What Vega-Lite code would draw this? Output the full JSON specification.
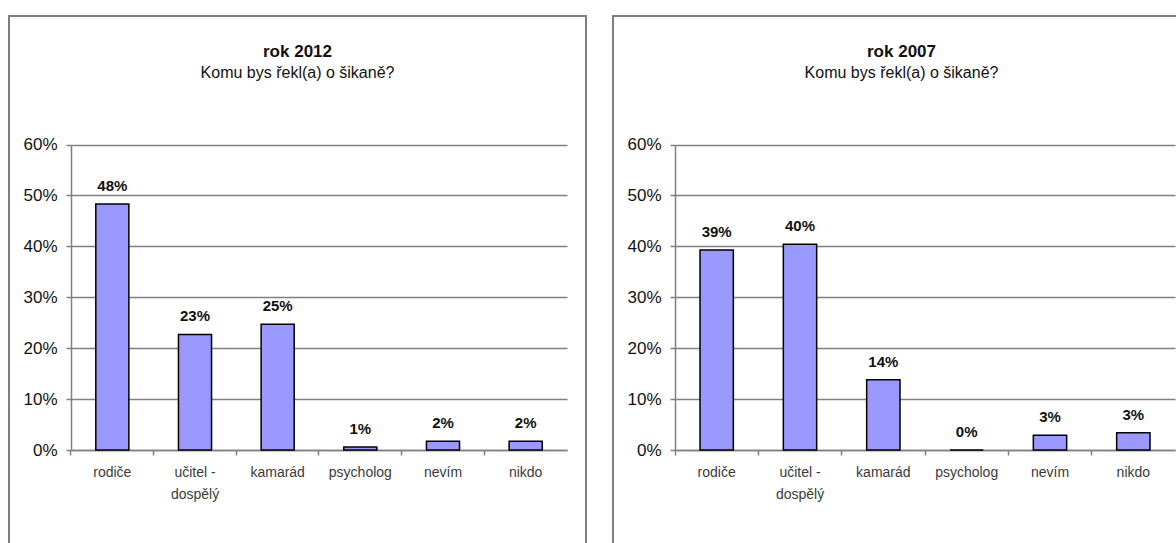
{
  "$schema": "https://vega.github.io/schema/vega-lite/v6.json",
  "padding": {"left": 8, "top": 15, "right": 0, "bottom": 0},
  "spacing": 25,
  "datasets": {
    "y2012": [
      {"kategorie": "rodiče", "podil": 0.483},
      {"kategorie": "učitel - dospělý", "podil": 0.227},
      {"kategorie": "kamarád", "podil": 0.247},
      {"kategorie": "psycholog", "podil": 0.006},
      {"kategorie": "nevím", "podil": 0.017},
      {"kategorie": "nikdo", "podil": 0.017}
    ],
    "y2007": [
      {"kategorie": "rodiče", "podil": 0.393},
      {"kategorie": "učitel - dospělý", "podil": 0.404},
      {"kategorie": "kamarád", "podil": 0.138},
      {"kategorie": "psycholog", "podil": 0.0},
      {"kategorie": "nevím", "podil": 0.029},
      {"kategorie": "nikdo", "podil": 0.034}
    ]
  },
  "config": {
    "font": "Liberation Sans, Arial",
    "view": {"stroke": "#7f7f7f", "strokeWidth": 2},
    "title": {
      "font": "Liberation Sans, Arial",
      "fontSize": 17,
      "fontWeight": "bold",
      "color": "#111111",
      "subtitleFont": "Liberation Sans, Arial",
      "subtitleFontSize": 16,
      "subtitleColor": "#111111",
      "subtitlePadding": 4,
      "anchor": "middle",
      "frame": "group",
      "offset": -66
    },
    "axis": {
      "labelFont": "Liberation Sans, Arial",
      "domainColor": "#808080",
      "domainWidth": 1.5,
      "tickColor": "#808080",
      "tickWidth": 1.5,
      "tickSize": 5,
      "title": null
    }
  },
  "hconcat": [
    {
      "title": {"text": "rok 2012", "subtitle": "Komu bys řekl(a) o šikaně?"},
      "width": 577,
      "height": 535,
      "data": {"name": "y2012"},
      "encoding": {
        "x": {
          "field": "kategorie",
          "type": "nominal",
          "sort": null,
          "scale": {"range": [62, 558], "paddingInner": 0.6, "paddingOuter": 0.3},
          "axis": {
            "orient": "bottom",
            "offset": -101,
            "labelAngle": 0,
            "labelFontSize": 14,
            "labelColor": "#3a3a3a",
            "labelPadding": 10,
            "labelLineHeight": 22,
            "bandPosition": -0.75,
            "labelExpr": "datum.value == 'učitel - dospělý' ? ['učitel -', 'dospělý'] : datum.label"
          }
        },
        "y": {
          "field": "podil",
          "type": "quantitative",
          "scale": {"domain": [0, 0.6], "range": [434, 128.5], "nice": false},
          "axis": {
            "orient": "left",
            "offset": -62,
            "values": [0, 0.1, 0.2, 0.3, 0.4, 0.5, 0.6],
            "format": ".0%",
            "labelFontSize": 17,
            "labelColor": "#111111",
            "labelPadding": 9,
            "grid": true,
            "gridColor": "#808080",
            "gridWidth": 1.5
          }
        }
      },
      "layer": [
        {"mark": {"type": "bar", "fill": "#9999ff", "stroke": "#000000", "strokeWidth": 1.5}},
        {
          "mark": {"type": "text", "baseline": "middle", "dy": -18, "fontSize": 15, "fontWeight": "bold", "color": "#111111"},
          "encoding": {"text": {"field": "podil", "type": "quantitative", "format": ".0%"}}
        }
      ]
    },
    {
      "title": {"text": "rok 2007", "subtitle": "Komu bys řekl(a) o šikaně?"},
      "width": 577,
      "height": 535,
      "data": {"name": "y2007"},
      "encoding": {
        "x": {
          "field": "kategorie",
          "type": "nominal",
          "sort": null,
          "scale": {"range": [62, 562], "paddingInner": 0.6, "paddingOuter": 0.3},
          "axis": {
            "orient": "bottom",
            "offset": -101,
            "labelAngle": 0,
            "labelFontSize": 14,
            "labelColor": "#3a3a3a",
            "labelPadding": 10,
            "labelLineHeight": 22,
            "bandPosition": -0.75,
            "labelExpr": "datum.value == 'učitel - dospělý' ? ['učitel -', 'dospělý'] : datum.label"
          }
        },
        "y": {
          "field": "podil",
          "type": "quantitative",
          "scale": {"domain": [0, 0.6], "range": [434, 128.5], "nice": false},
          "axis": {
            "orient": "left",
            "offset": -62,
            "values": [0, 0.1, 0.2, 0.3, 0.4, 0.5, 0.6],
            "format": ".0%",
            "labelFontSize": 17,
            "labelColor": "#111111",
            "labelPadding": 9,
            "grid": true,
            "gridColor": "#808080",
            "gridWidth": 1.5
          }
        }
      },
      "layer": [
        {"mark": {"type": "bar", "fill": "#9999ff", "stroke": "#000000", "strokeWidth": 1.5}},
        {
          "mark": {"type": "text", "baseline": "middle", "dy": -18, "fontSize": 15, "fontWeight": "bold", "color": "#111111"},
          "encoding": {"text": {"field": "podil", "type": "quantitative", "format": ".0%"}}
        }
      ]
    }
  ]
}
